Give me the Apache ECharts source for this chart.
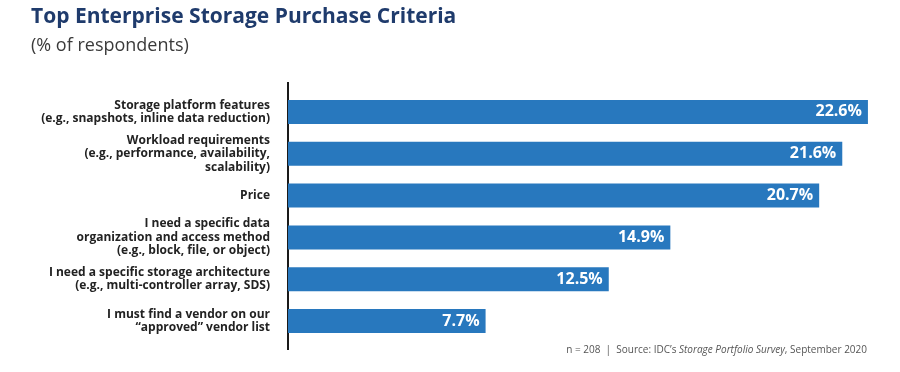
<!DOCTYPE html>
<html><head><meta charset="utf-8">
<script src="https://cdn.jsdelivr.net/npm/echarts@6/dist/echarts.min.js"></script>
<style>html,body{margin:0;padding:0;background:#fff}#c{width:900px;height:372px}</style>
</head><body><div id="c"></div>
<script>
const categories = [
  "Storage platform features\n(e.g., snapshots, inline data reduction)",
  "Workload requirements\n(e.g., performance, availability,\nscalability)",
  "Price",
  "I need a specific data\norganization and access method\n(e.g., block, file, or object)",
  "I need a specific storage architecture\n(e.g., multi-controller array, SDS)",
  "I must find a vendor on our\n\u201capproved\u201d vendor list"
];
const values = [22.6, 21.6, 20.7, 14.9, 12.5, 7.7];

const chart = echarts.init(document.getElementById('c'), null, {renderer: 'canvas'});
const FONT = 'Open Sans';
chart.setOption({
  animation: false,
  title: [
    {text: 'Top Enterprise Storage Purchase Criteria', left: 26, top: 2,
     textStyle: {fontFamily: FONT, fontWeight: 'bold', fontSize: 21, color: '#1f3b6c'}},
    {text: '(% of respondents)', left: 26, top: 32,
     textStyle: {fontFamily: FONT, fontWeight: 'normal', fontSize: 18, color: '#3a3a3a'}}
  ],
  grid: {left: 288, right: 21.8, top: 91, bottom: 30, containLabel: false},
  xAxis: {type: 'value', min: 0, max: 23, show: false},
  yAxis: {
    type: 'category', data: categories, inverse: true,
    axisLine: {show: false}, axisTick: {show: false},
    axisLabel: {fontFamily: FONT, fontWeight: 'bold', fontSize: 12, color: '#222', lineHeight: 13.5, margin: 18, align: 'right'}
  },
  series: [{
    type: 'bar', data: values, barWidth: 24,
    itemStyle: {color: '#2878be'},
    label: {show: true, position: 'insideRight', distance: 6, formatter: p => p.value.toFixed(1) + '%',
      fontFamily: FONT, fontWeight: 'bold', fontSize: 16, color: '#fff'}
  }],
  graphic: [
    {type: 'line', shape: {x1: 288, y1: 82, x2: 288, y2: 350}, style: {stroke: '#1a1a1a', lineWidth: 2}},
    {type: 'text', right: 33, top: 345, style: {
      rich: {n: {fontFamily: FONT, fontSize: 10, fill: '#555'}, i: {fontFamily: FONT, fontSize: 10, fill: '#555', fontStyle: 'italic'}},
      text: '{n|n = 208  |  Source: IDC\u2019s }{i|Storage Portfolio Survey}{n|, September 2020}'
    }}
  ]
});
</script></body></html>
